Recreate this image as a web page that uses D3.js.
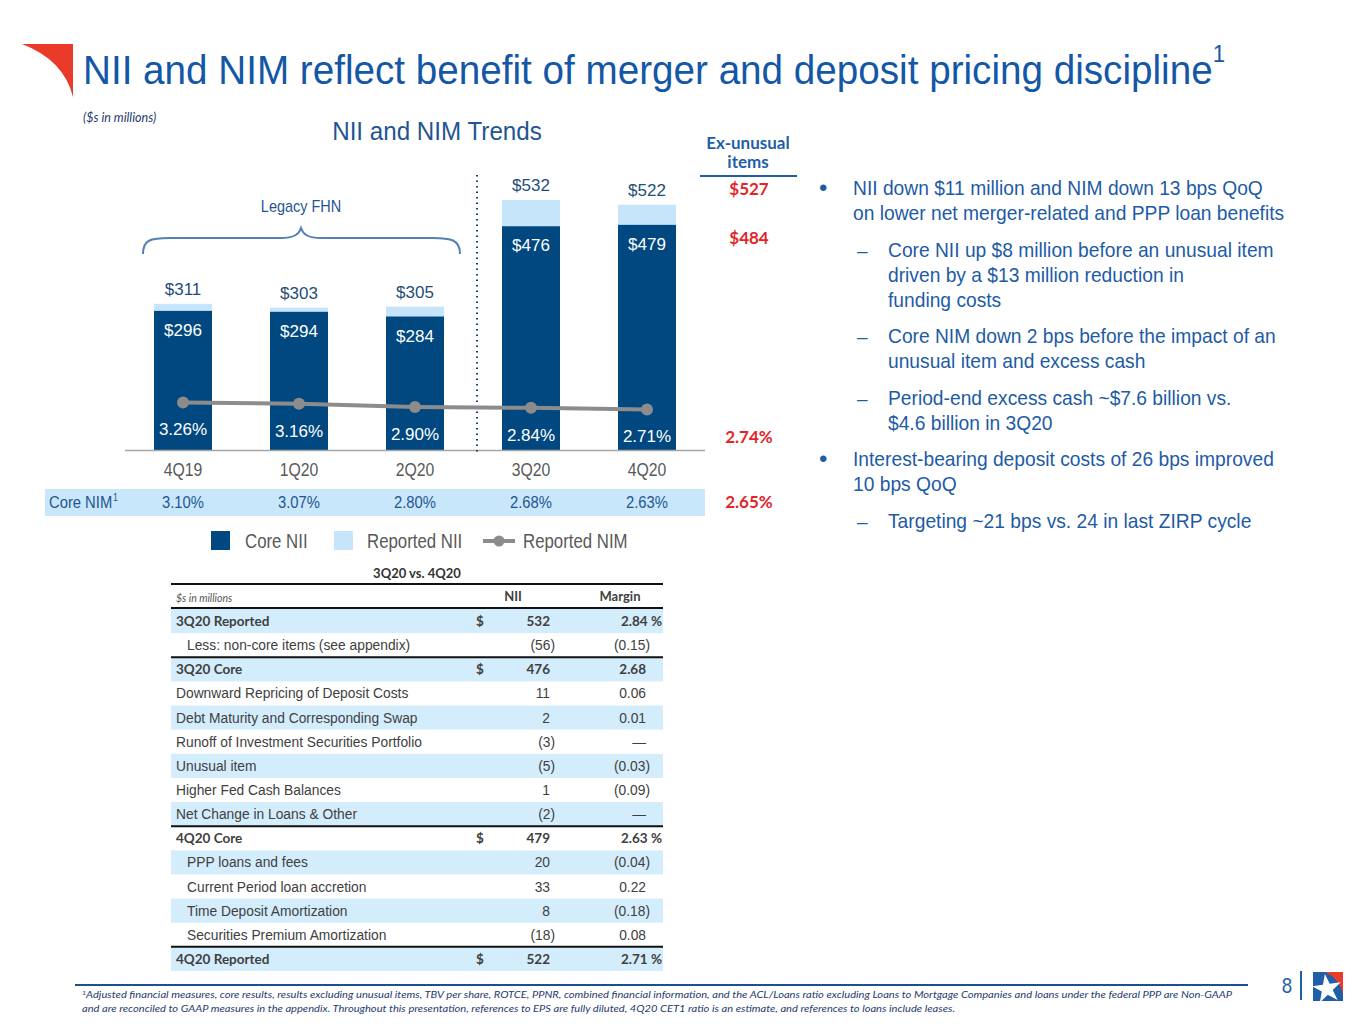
<!DOCTYPE html>
<html>
<head>
<meta charset="utf-8">
<script src="https://cdn.jsdelivr.net/npm/d3@7/dist/d3.min.js"></script>
<style>
  body { margin: 0; background: #fff; }
  svg { display: block; }
</style>
</head>
<body>
<div id="slide"></div>
<script>
// Chart data
const quarters = ['4Q19', '1Q20', '2Q20', '3Q20', '4Q20'];
const reportedNII = [311, 303, 305, 532, 522];
const coreNII = [296, 294, 284, 476, 479];
const reportedNIM = [3.26, 3.16, 2.90, 2.84, 2.71];
const coreNIM = [3.10, 3.07, 2.80, 2.68, 2.63];
const exUnusualNII = ['$527', '$484'];
const exUnusualNIM = ['2.74%', '2.65%'];

// Bridge table data
const tableLabels = [
    '3Q20 Reported', 'Less: non-core items (see appendix)', '3Q20 Core',
    'Downward Repricing of Deposit Costs', 'Debt Maturity and Corresponding Swap',
    'Runoff of Investment Securities Portfolio', 'Unusual item', 'Higher Fed Cash Balances',
    'Net Change in Loans & Other', '4Q20 Core', 'PPP loans and fees',
    'Current Period loan accretion', 'Time Deposit Amortization',
    'Securities Premium Amortization', '4Q20 Reported'
];
const tableNII = ['532', '(56)', '476', '11', '2', '(3)', '(5)', '1', '(2)', '479', '20', '33', '8', '(18)', '522'];
const tableMargin = ['2.84', '(0.15)', '2.68', '0.06', '0.01', '—', '(0.03)', '(0.09)', '—', '2.63', '(0.04)', '0.22', '(0.18)', '0.08', '2.71'];
const totalRows = ['3Q20 Reported', '3Q20 Core', '4Q20 Core', '4Q20 Reported'];
const pctRows = ['3Q20 Reported', '4Q20 Core', '4Q20 Reported'];
const indentedRows = ['Less: non-core items (see appendix)', 'PPP loans and fees', 'Current Period loan accretion',
    'Time Deposit Amortization', 'Securities Premium Amortization'];

// Commentary bullets
const bullets = [
    { level: 0, lines: ['NII down $11 million and NIM down 13 bps QoQ', 'on lower net merger-related and PPP loan benefits'] },
    { level: 1, lines: ['Core NII up $8 million before an unusual item', 'driven by a $13 million reduction in', 'funding costs'] },
    { level: 1, lines: ['Core NIM down 2 bps before the impact of an', 'unusual item and excess cash'] },
    { level: 1, lines: ['Period-end excess cash ~$7.6 billion vs.', '$4.6 billion in 3Q20'] },
    { level: 0, lines: ['Interest-bearing deposit costs of 26 bps improved', '10 bps QoQ'] },
    { level: 1, lines: ['Targeting ~21 bps vs. 24 in last ZIRP cycle'] }
];

const footnote = [
    'Adjusted financial measures, core results, results excluding unusual items, TBV per share, ROTCE, PPNR, combined financial information, and the ACL/Loans ratio excluding Loans to Mortgage Companies and loans under the federal PPP are Non-GAAP',
    'and are reconciled to GAAP measures in the appendix. Throughout this presentation, references to EPS are fully diluted, 4Q20 CET1 ratio is an estimate, and references to loans include leases.'
];

const ARIAL = "'Liberation Sans', Arial, sans-serif";
const CALIBRI = "Lato, 'Open Sans', sans-serif";

const navy = '#00487f';
const lightBlue = '#c6e5fb';
const titleBlue = '#1357a6';
const textBlue = '#1d5ba6';
const red = '#e32528';

const svg = d3.select('#slide').append('svg')
    .attr('width', 1365)
    .attr('height', 1024);

// squeeze or stretch a text to a target width
function fitText(sel, width) {
    const w = sel.node().getComputedTextLength();
    if (Math.abs(w - width) > 2) {
        sel.attr('textLength', width).attr('lengthAdjust', 'spacingAndGlyphs');
    }
    return sel;
}

// no narrow font here, so condense the regular one
function condense(sel, k) {
    sel.each(function() {
        const w = this.getComputedTextLength();
        d3.select(this).attr('textLength', w * k).attr('lengthAdjust', 'spacingAndGlyphs');
    });
    return sel;
}

// Header: logo mark and title
svg.append('path')
    .attr('d', 'M22,44 L73,44 L73,97 Q64,60 22,44 Z')
    .attr('fill', '#ea3a2a');

const title = svg.append('text')
    .attr('x', 83).attr('y', 84)
    .style('font-family', ARIAL)
    .style('font-size', '40px')
    .style('fill', titleBlue);
title.append('tspan').text('NII and NIM reflect benefit of merger and deposit pricing discipline');
title.append('tspan').attr('dy', -22).style('font-size', '23px').text('1');
fitText(title, 1142);

svg.append('text')
    .attr('x', 83).attr('y', 122)
    .style('font-family', CALIBRI)
    .style('font-style', 'italic')
    .style('font-size', '12.5px')
    .style('fill', '#1f3b6e')
    .text('($s in millions)');

condense(svg.append('text')
    .attr('x', 437).attr('y', 140)
    .attr('text-anchor', 'middle')
    .style('font-family', ARIAL)
    .style('font-size', '26px')
    .style('fill', '#1f5592')
    .text('NII and NIM Trends'), 0.93);

// Scales
const x = d3.scaleBand()
    .domain(quarters)
    .range([125, 705])
    .paddingInner(0.5)
    .paddingOuter(0.25);

const y = d3.scaleLinear()
    .domain([0, 600])
    .range([450, 168]);

const yNim = d3.scaleLinear()
    .domain([0, 4])
    .range([444, 393]);

const cx = d => x(d) + x.bandwidth() / 2;

const chart = svg.append('g');

// Reported NII bars (light) behind core NII bars (navy)
chart.selectAll('.reported')
    .data(quarters)
    .join('rect')
    .attr('x', d => x(d))
    .attr('y', (d, i) => y(reportedNII[i]))
    .attr('width', x.bandwidth())
    .attr('height', (d, i) => y(0) - y(reportedNII[i]))
    .attr('fill', lightBlue);

chart.selectAll('.core')
    .data(quarters)
    .join('rect')
    .attr('x', d => x(d))
    .attr('y', (d, i) => y(coreNII[i]))
    .attr('width', x.bandwidth())
    .attr('height', (d, i) => y(0) - y(coreNII[i]))
    .attr('fill', navy);

// Axis line and category labels
chart.append('line')
    .attr('x1', 125).attr('x2', 705)
    .attr('y1', y(0) + 0.5).attr('y2', y(0) + 0.5)
    .attr('stroke', '#a6a6a6')
    .attr('stroke-width', 1.5);

const xAxis = chart.append('g')
    .attr('transform', `translate(0,${y(0)})`)
    .call(d3.axisBottom(x).tickSize(0).tickPadding(13));
xAxis.select('.domain').remove();
condense(xAxis.selectAll('text')
    .style('font-family', ARIAL)
    .style('font-size', '19px')
    .style('fill', '#595959'), 0.83);

// Bar labels
chart.selectAll('.rep-label')
    .data(quarters)
    .join('text')
    .attr('x', cx)
    .attr('y', (d, i) => y(reportedNII[i]) - 9)
    .attr('text-anchor', 'middle')
    .style('font-family', ARIAL)
    .style('font-size', '17px')
    .style('fill', '#1f4e79')
    .text((d, i) => '$' + reportedNII[i]);

chart.selectAll('.core-label')
    .data(quarters)
    .join('text')
    .attr('x', cx)
    .attr('y', (d, i) => y(coreNII[i]) + 25)
    .attr('text-anchor', 'middle')
    .style('font-family', ARIAL)
    .style('font-size', '17px')
    .style('fill', '#fff')
    .text((d, i) => '$' + coreNII[i]);

// Dotted divider between legacy FHN and the merged company
chart.append('line')
    .attr('x1', 477).attr('x2', 477)
    .attr('y1', 175).attr('y2', 452)
    .attr('stroke', '#1f3b6e')
    .attr('stroke-width', 2)
    .attr('stroke-dasharray', '1.5,4');

// Legacy FHN brace
chart.append('path')
    .attr('d', 'M143,254 C143,240 150,238 170,238 L280,238 C295,238 299,234 301,228 C303,234 307,238 322,238 L432,238 C452,238 460,240 460,254')
    .attr('fill', 'none')
    .attr('stroke', '#5580b5')
    .attr('stroke-width', 2);

condense(chart.append('text')
    .attr('x', 301).attr('y', 212)
    .attr('text-anchor', 'middle')
    .style('font-family', ARIAL)
    .style('font-size', '17px')
    .style('fill', '#1f5592')
    .text('Legacy FHN'), 0.85);

// Reported NIM line
const line = d3.line()
    .x((d, i) => cx(quarters[i]))
    .y(d => yNim(d));

chart.append('path')
    .datum(reportedNIM)
    .attr('d', line)
    .attr('fill', 'none')
    .attr('stroke', '#8c8c8c')
    .attr('stroke-width', 4);

chart.selectAll('.nim-dot')
    .data(reportedNIM)
    .join('circle')
    .attr('cx', (d, i) => cx(quarters[i]))
    .attr('cy', d => yNim(d))
    .attr('r', 6)
    .attr('fill', '#8c8c8c');

chart.selectAll('.nim-label')
    .data(reportedNIM)
    .join('text')
    .attr('x', (d, i) => cx(quarters[i]))
    .attr('y', d => yNim(d) + 33)
    .attr('text-anchor', 'middle')
    .style('font-family', ARIAL)
    .style('font-size', '17px')
    .style('fill', '#fff')
    .text(d => d.toFixed(2) + '%');

// Core NIM row
chart.append('rect')
    .attr('x', 45).attr('y', 489)
    .attr('width', 660).attr('height', 27)
    .attr('fill', '#c9e7fb');

const coreNimLabel = chart.append('text')
    .attr('x', 49).attr('y', 508)
    .style('font-family', ARIAL)
    .style('font-size', '17px')
    .style('fill', '#1f5592');
coreNimLabel.append('tspan').text('Core NIM');
coreNimLabel.append('tspan').attr('dx', 1).attr('dy', -7).style('font-size', '10px').text('1');
condense(coreNimLabel, 0.88);

condense(chart.selectAll('.core-nim')
    .data(coreNIM)
    .join('text')
    .attr('x', (d, i) => cx(quarters[i]))
    .attr('y', 508)
    .attr('text-anchor', 'middle')
    .style('font-family', ARIAL)
    .style('font-size', '17px')
    .style('fill', '#1f5592')
    .text(d => d.toFixed(2) + '%'), 0.87);

// Ex-unusual items column
const exHead = chart.append('text')
    .attr('text-anchor', 'middle')
    .style('font-family', CALIBRI)
    .style('font-weight', '700')
    .style('font-size', '17px')
    .style('fill', '#1f5fa8');
exHead.append('tspan').attr('x', 748).attr('y', 149).text('Ex-unusual');
exHead.append('tspan').attr('x', 748).attr('y', 168).text('items');

chart.append('line')
    .attr('x1', 700).attr('x2', 797)
    .attr('y1', 176).attr('y2', 176)
    .attr('stroke', '#1f5fa8')
    .attr('stroke-width', 2);

const exValues = [exUnusualNII[0], exUnusualNII[1], exUnusualNIM[0], exUnusualNIM[1]];
const exY = [195, 244, 443, 508];
chart.selectAll('.ex-val')
    .data(exValues)
    .join('text')
    .attr('x', 749)
    .attr('y', (d, i) => exY[i])
    .attr('text-anchor', 'middle')
    .style('font-family', CALIBRI)
    .style('font-weight', '700')
    .style('font-size', '17px')
    .style('fill', red)
    .text(d => d);

// Legend
const legend = chart.append('g').attr('transform', 'translate(0,541)');
legend.append('rect').attr('x', 211).attr('y', -10).attr('width', 19).attr('height', 19).attr('fill', navy);
legend.append('rect').attr('x', 334).attr('y', -10).attr('width', 19).attr('height', 19).attr('fill', lightBlue);
legend.append('line').attr('x1', 483).attr('x2', 515).attr('y1', 0).attr('y2', 0)
    .attr('stroke', '#8c8c8c').attr('stroke-width', 4);
legend.append('circle').attr('cx', 499).attr('cy', 0).attr('r', 5.5).attr('fill', '#8c8c8c');
condense(legend.selectAll('.leg-text')
    .data([['Core NII', 245], ['Reported NII', 367], ['Reported NIM', 523]])
    .join('text')
    .attr('x', d => d[1])
    .attr('y', 7)
    .style('font-family', ARIAL)
    .style('font-size', '20px')
    .style('fill', '#595959')
    .text(d => d[0]), 0.84);

// Bridge table
const table = svg.append('g');
const rowY = d3.scaleBand()
    .domain(d3.range(tableLabels.length))
    .range([609, 971]);
const tLeft = 171, tRight = 663;

table.append('text')
    .attr('x', 417).attr('y', 578)
    .attr('text-anchor', 'middle')
    .style('font-family', CALIBRI)
    .style('font-weight', '700')
    .style('font-size', '13px')
    .style('fill', '#333')
    .text('3Q20 vs. 4Q20');

table.selectAll('.shade')
    .data(tableLabels.filter((d, i) => i % 2 === 0))
    .join('rect')
    .attr('x', tLeft)
    .attr('y', d => rowY(tableLabels.indexOf(d)))
    .attr('width', tRight - tLeft)
    .attr('height', rowY.bandwidth())
    .attr('fill', '#d4edfc');

// header row
table.append('text')
    .attr('x', 176).attr('y', 602)
    .style('font-family', CALIBRI)
    .style('font-style', 'italic')
    .style('font-size', '10.5px')
    .style('fill', '#555')
    .text('$s in millions');
table.selectAll('.head')
    .data([['NII', 513], ['Margin', 620]])
    .join('text')
    .attr('x', d => d[1])
    .attr('y', 601)
    .attr('text-anchor', 'middle')
    .style('font-family', CALIBRI)
    .style('font-weight', '700')
    .style('font-size', '13px')
    .style('fill', '#404040')
    .text(d => d[0]);

const rows = table.selectAll('.row')
    .data(tableLabels)
    .join('g')
    .attr('transform', (d, i) => `translate(0,${rowY(i) + rowY.bandwidth() / 2 + 5})`);

const isTotal = d => totalRows.includes(d);

// apply the row font, condensing the plain rows
function rowFont(sel) {
    sel.style('font-family', d => isTotal(d) ? CALIBRI : ARIAL)
        .style('font-weight', d => isTotal(d) ? '700' : '400')
        .style('font-size', d => isTotal(d) ? '13.5px' : '15.5px')
        .style('fill', '#404040');
    condense(sel.filter(d => !isTotal(d)), 0.89);
}

rows.append('text')
    .attr('x', d => indentedRows.includes(d) ? 187 : 176)
    .text(d => d)
    .call(rowFont);

rows.filter(isTotal)
    .append('text')
    .attr('x', 480)
    .attr('text-anchor', 'middle')
    .style('font-family', CALIBRI)
    .style('font-weight', '700')
    .style('font-size', '13.5px')
    .style('fill', '#404040')
    .text('$');

rows.append('text')
    .attr('x', (d, i) => tableNII[i].endsWith(')') ? 555 : 550)
    .attr('text-anchor', 'end')
    .text((d, i) => tableNII[i])
    .call(rowFont);

rows.append('text')
    .attr('x', (d, i) => pctRows.includes(d) ? 662 : (tableMargin[i].endsWith(')') ? 650 : 646))
    .attr('text-anchor', 'end')
    .text((d, i) => pctRows.includes(d) ? tableMargin[i] + ' %' : tableMargin[i])
    .call(rowFont);

// rule lines
const rules = [[584, 2], [608, 2], [rowY(2), 2], [rowY(9), 2], [rowY(14), 2]];
table.selectAll('.rule')
    .data(rules)
    .join('line')
    .attr('x1', tLeft).attr('x2', tRight)
    .attr('y1', d => d[0]).attr('y2', d => d[0])
    .attr('stroke', '#111')
    .attr('stroke-width', d => d[1]);

// Commentary bullets
const notes = svg.append('g');
let by = 195;
bullets.forEach(b => {
    const tx = b.level === 0 ? 853 : 888;
    notes.append('text')
        .attr('x', b.level === 0 ? 819 : 857)
        .attr('y', by + (b.level === 0 ? 1 : 0))
        .style('font-family', ARIAL)
        .style('font-size', b.level === 0 ? '24px' : '19px')
        .style('fill', textBlue)
        .text(b.level === 0 ? '•' : '–');
    b.lines.forEach((ln, li) => {
        condense(notes.append('text')
            .attr('x', tx)
            .attr('y', by + li * 25)
            .style('font-family', ARIAL)
            .style('font-size', '21px')
            .style('fill', textBlue)
            .text(ln), 0.915);
    });
    by += (b.lines.length - 1) * 25 + 36.5;
});

// Footer
svg.append('line')
    .attr('x1', 75).attr('x2', 1248)
    .attr('y1', 985).attr('y2', 985)
    .attr('stroke', '#1f4e8c')
    .attr('stroke-width', 2);

const foot1 = svg.append('text')
    .attr('x', 82).attr('y', 998)
    .style('font-family', CALIBRI)
    .style('font-style', 'italic')
    .style('font-size', '9.5px')
    .style('fill', '#1f3b6e');
foot1.append('tspan').attr('dy', -3).style('font-size', '6px').text('1');
foot1.append('tspan').attr('dy', 3).text(footnote[0]);
fitText(foot1, 1150);

const foot2 = svg.append('text')
    .attr('x', 82).attr('y', 1012)
    .style('font-family', CALIBRI)
    .style('font-style', 'italic')
    .style('font-size', '9.5px')
    .style('fill', '#1f3b6e')
    .text(footnote[1]);
fitText(foot2, 873);

condense(svg.append('text')
    .attr('x', 1287).attr('y', 993)
    .attr('text-anchor', 'middle')
    .style('font-family', ARIAL)
    .style('font-size', '22px')
    .style('fill', '#1f5fa8')
    .text('8'), 0.85);

svg.append('line')
    .attr('x1', 1301).attr('x2', 1301)
    .attr('y1', 971).attr('y2', 1000)
    .attr('stroke', '#1f5fa8')
    .attr('stroke-width', 2);

// small corner logo
const logo = svg.append('g').attr('transform', 'translate(1313,972)');
logo.append('rect').attr('width', 30).attr('height', 29).attr('fill', '#1f5fa8');
logo.append('path').attr('d', 'M12,0 L30,0 L30,22 Q26,6 12,0 Z').attr('fill', '#ea3a2a');
logo.append('path')
    .attr('d', d3.symbol(d3.symbolStar, 260)())
    .attr('transform', 'translate(14,17) rotate(-8)')
    .attr('fill', '#fff');
</script>
</body>
</html>
